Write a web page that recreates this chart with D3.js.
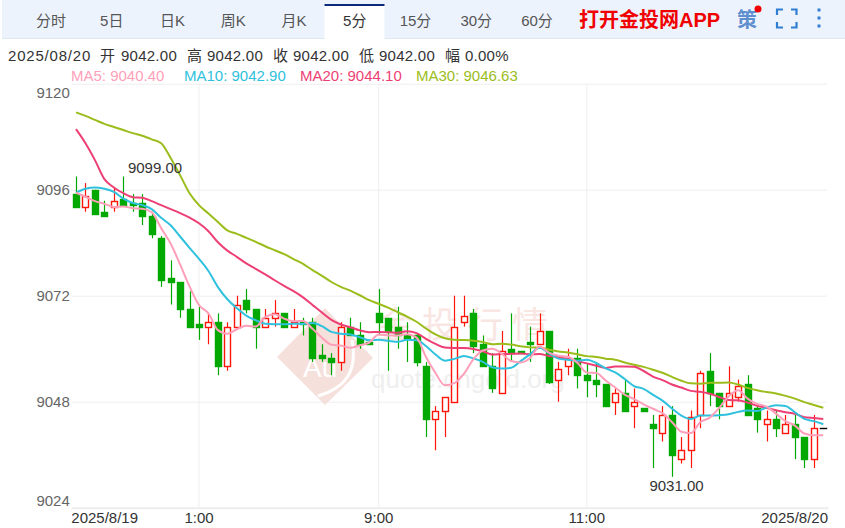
<!DOCTYPE html>
<html>
<head>
<meta charset="utf-8">
<script src="https://cdn.jsdelivr.net/npm/d3@7/dist/d3.min.js"></script>
<style>
  html, body { margin: 0; padding: 0; background: #fff; overflow: hidden; }
  svg { display: block; font-family: "Liberation Sans", Arial, "Noto Sans CJK SC", sans-serif; }
</style>
</head>
<body>
<svg id="chart" width="845" height="528"></svg>
<script>
// toolbar and header text
var tabs = ['分时', '5日', '日K', '周K', '月K', '5分', '15分', '30分', '60分'];
var activeTab = '5分';
var headerDate = '2025/08/20';
var headerLabels = ['开', '高', '收', '低', '幅'];
var headerValues = ['9042.00', '9042.00', '9042.00', '9042.00', '0.00%'];
var legendNames = ['MA5', 'MA10', 'MA20', 'MA30'];
var legendValues = ['9040.40', '9042.90', '9044.10', '9046.63'];

// axis
var yTicks = [9120, 9096, 9072, 9048, 9024];
var xTickIndex = [0, 13, 32, 54, 79];
var xTickLabels = ['2025/8/19', '1:00', '9:00', '11:00', '2025/8/20'];

// 5 minute candles
var opens = [
  9095,9092,9096,9091,9092,9094,9093,9093,9090,9085,
  9076,9075,9069,9065.5,9065,9066,9056,9065,9071,9069,
  9065,9067,9068,9065,9066,9066,9058.5,9058,9057,9065,
  9063,9061.5,9068,9067,9065,9063,9063,9056,9044,9046,
  9048,9066,9068,9061,9056,9050,9060,9059.5,9061.5,9061,
  9064,9053,9056,9058,9054,9053,9052,9048,9050,9047,
  9046.5,9043,9041,9045,9035,9037,9045,9055,9050,9047,
  9049,9052,9046.5,9043,9044,9041,9043,9040,9035,9042
];
var highs = [
  9099,9097.5,9096,9093.5,9096.5,9099,9095,9095,9091,9085.5,
  9080,9075,9073,9069.5,9068,9068,9066,9072,9073.5,9069,
  9069,9071,9068,9069,9067,9067,9061,9059,9066,9067,
  9066,9061.5,9073.5,9067,9069.5,9066,9063.5,9057,9047,9049,
  9072,9072,9069,9063,9059,9064,9068,9059.5,9065,9068,
  9064,9057,9060,9060,9056.5,9057,9052,9051,9053,9051,
  9046.5,9045,9047,9047,9040,9046,9055,9059,9050,9056,
  9053,9054,9047,9046,9046,9045,9045,9040,9045,9042
];
var lows = [
  9092,9091,9090.5,9090,9091,9092.5,9091,9088,9085,9074,
  9070,9067,9065,9062,9061,9054,9055,9065,9068,9060,
  9065,9065,9065,9065,9063,9057,9057,9054,9055,9063,
  9060,9061,9063,9055,9060,9057,9056,9040,9037,9040,
  9048,9065,9059,9056,9050,9050,9057,9059,9057,9061,
  9052,9048,9054,9051,9049,9049,9047,9045,9046,9042,
  9046,9033,9039,9031,9034,9033,9042,9047,9044,9047,
  9048,9045,9041,9039,9040,9041,9035,9033,9033,9042
];
var closes = [
  9092,9094.5,9090.5,9090,9093.5,9092.5,9092.5,9090,9086,9075.5,
  9075,9069,9065,9065,9066,9056,9065,9070,9069,9065,
  9067,9068,9065,9066,9065.5,9058,9058,9057,9065,9063,
  9061,9061,9066,9064,9063,9062.5,9057,9044,9046,9049,
  9065,9067.5,9060.5,9056,9051,9059.5,9059,9059,9061,9064,
  9052.5,9055.5,9058,9054,9053,9052,9047,9050,9046,9048,
  9046,9042,9045,9036,9037,9044.5,9054.5,9050,9047,9050,
  9051.5,9045,9044,9044,9042,9043,9040,9035,9042,9042
];

// moving averages
var ma5 = [
  9095.3,9094.4,9093.4,9092.8,9092.1,9092.2,9091.8,9091.7,9090.9,9087.3,
  9083.8,9079.1,9074.1,9069.9,9068,9064.2,9063.4,9064.4,9065.2,9065,
  9067.2,9067.8,9066.8,9066.2,9066.3,9064.5,9062.5,9060.9,9060.7,9060.2,
  9060.8,9061.4,9063.2,9063,9063,9063.3,9062.5,9058.1,9054.5,9051.7,
  9052.2,9054.3,9057.6,9059.6,9060,9058.9,9057.2,9056.9,9057.9,9060.5,
  9059.1,9058.4,9058.2,9056.8,9054.6,9054.5,9052.8,9051.2,9049.6,9048.6,
  9047.4,9046.4,9045.4,9043.4,9041.2,9040.9,9043.4,9044.4,9046.6,9049.2,
  9050.6,9048.7,9047.5,9046.9,9045.3,9043.6,9042.6,9040.8,9040.4,9040.4
];
var ma10 = [
  9095.3,9096.2,9096.5,9096.2,9095.5,9094,9093,9092.5,9091.6,9089.65,
  9087.95,9085.4,9082.85,9080.35,9077.6,9073.95,9071.2,9069.2,9067.5,9066.45,
  9065.65,9065.55,9065.55,9065.65,9065.6,9065.8,9065.1,9063.8,9063.4,9063.2,
  9062.6,9061.9,9062,9061.8,9061.55,9062,9061.9,9060.6,9058.7,9057.3,
  9057.7,9058.35,9057.8,9057,9055.8,9055.5,9055.7,9057.2,9058.7,9060.2,
  9058.95,9057.75,9057.5,9057.3,9057.5,9056.75,9055.55,9054.65,9053.15,9051.55,
  9050.9,9049.55,9048.25,9046.45,9044.85,9044.1,9044.85,9044.85,9044.95,9045.15,
  9045.7,9046,9045.9,9046.7,9047.2,9047.05,9045.6,9044.1,9043.6,9042.9
];
var ma20 = [
  9109.7,9106.5,9102.7,9098.4,9096.5,9095.2,9094.3,9094.2,9093.4,9092.5,
  9091.6,9090.7,9089.7,9088.4,9086.6,9084.1,9082.2,9080.8,9079.3,9078.08,
  9076.83,9075.5,9074.23,9073.03,9071.63,9069.9,9068.18,9066.53,9065.48,9064.85,
  9064.15,9063.75,9063.8,9063.75,9063.6,9063.93,9063.53,9062.23,9061.08,9060.28,
  9060.18,9060.15,9059.93,9059.43,9058.7,9058.78,9058.83,9058.93,9058.73,9058.78,
  9058.35,9058.08,9057.68,9057.18,9056.68,9056.15,9055.65,9055.95,9055.95,9055.9,
  9054.95,9053.68,9052.9,9051.9,9051.2,9050.45,9050.23,9049.78,9049.08,9048.38,
  9048.33,9047.8,9047.1,9046.6,9046.05,9045.6,9045.25,9044.5,9044.3,9044.1
];
var ma30 = [
  9113.5,9112.7,9111.8,9110.9,9110.2,9109.5,9108.8,9108.2,9107.4,9106.5,
  9103.2,9099.3,9095.2,9092.5,9090.6,9088.7,9086.8,9086,9085.1,9084.2,
  9083.2,9082.3,9081.4,9080.3,9079.2,9077.8,9076.5,9075.1,9074,9073.13,
  9072.1,9070.98,9070.17,9069.3,9068.28,9067.28,9066.1,9064.57,9063.23,9062.35,
  9062.02,9061.97,9061.82,9061.52,9061.02,9061.13,9060.93,9060.57,9060.3,9060.27,
  9059.78,9059.37,9059.13,9058.73,9058.32,9058.12,9057.75,9057.52,9056.88,9056.38,
  9055.88,9055.25,9054.55,9053.62,9052.75,9052.15,9052.07,9052.27,9052.3,9052.33,
  9051.88,9051.13,9050.58,9050.18,9049.88,9049.33,9048.7,9047.9,9047.27,9046.63
];

var colors = { ma5: '#ff9fb9', ma10: '#2fc1dd', ma20: '#ee3f75', ma30: '#9bbd1c', up: '#ff1408', down: '#00a800', text: '#333' };

var svg = d3.select('#chart');
var grid = { left: 71.3, right: 828, top: 83.7, bottom: 507.7 };

var x = d3.scaleBand().domain(d3.range(closes.length)).range([grid.left, grid.right])
  .paddingInner(0.36).paddingOuter(0.18);
var y = d3.scaleLinear().domain([9024, 9120]).range([grid.bottom, grid.top]);
function cx(i) { return x(i) + x.bandwidth() / 2; }
function crisp(v) { return Math.round(v) + 0.5; }

_drawToolbar();
_drawHeader();
_drawGrid();
_drawWatermark();
_drawCandles();
_drawLines();
_drawLabels();

function _drawToolbar() {
  svg.append('rect').attr('x', 2).attr('y', 0).attr('width', 843).attr('height', 38).attr('fill', '#edf3fd');
  svg.append('rect').attr('x', 2).attr('y', 38).attr('width', 843).attr('height', 1).attr('fill', '#dfe7f3');
  svg.append('rect').attr('x', 324.5).attr('y', 4).attr('width', 60).attr('height', 35).attr('fill', '#fff');
  svg.append('rect').attr('x', 324.5).attr('y', 4).attr('width', 60).attr('height', 2).attr('fill', '#0c2a7c');

  var tabX = d3.scalePoint().domain(tabs).range([51, 537]);
  svg.selectAll('.tab').data(tabs).enter().append('text')
    .attr('class', 'tab')
    .attr('x', function (d) { return tabX(d); })
    .attr('y', 26)
    .attr('text-anchor', 'middle')
    .attr('font-size', 15)
    .attr('fill', function (d) { return d == activeTab ? '#333' : '#555'; })
    .text(function (d) { return d; });

  svg.append('text').attr('x', 579).attr('y', 27)
    .attr('font-size', 20).attr('font-weight', 'bold').attr('fill', '#f00000')
    .text('打开金投网APP');

  svg.append('text').attr('x', 737).attr('y', 27)
    .attr('font-size', 20).attr('font-weight', 'bold').attr('fill', '#5f8fcf').text('策');
  svg.append('circle').attr('cx', 758).attr('cy', 9).attr('r', 3.5).attr('fill', '#f00000');

  // fullscreen corners
  svg.append('path')
    .attr('d', 'M777 15V9.5H783 M791 9.5H796.5V15 M796.5 22V27.5H791 M783 27.5H777V22')
    .attr('fill', 'none').attr('stroke', '#2e7fd2').attr('stroke-width', 2.2);
  svg.selectAll('.dot').data([10, 18, 26]).enter().append('rect')
    .attr('class', 'dot').attr('x', 817.5).attr('y', function (d) { return d - 1.5; })
    .attr('width', 3).attr('height', 3).attr('fill', '#2e7fd2');
}

function _drawHeader() {
  var labelX = [100, 187, 273, 359, 445];
  var valueX = [121, 207, 293, 379, 465];
  svg.append('text').attr('x', 8).attr('y', 61).attr('font-size', 15).attr('letter-spacing', 0.8)
    .attr('fill', colors.text).text(headerDate);
  headerLabels.forEach(function (d, i) {
    svg.append('text').attr('x', labelX[i]).attr('y', 61).attr('font-size', 15).attr('fill', colors.text).text(d);
    svg.append('text').attr('x', valueX[i]).attr('y', 61).attr('font-size', 15).attr('letter-spacing', 0.25)
      .attr('fill', colors.text).text(headerValues[i]);
  });

  var legendX = [71, 184, 300, 416];
  var legendColors = [colors.ma5, colors.ma10, colors.ma20, colors.ma30];
  legendNames.forEach(function (d, i) {
    svg.append('text').attr('x', legendX[i]).attr('y', 81).attr('font-size', 15)
      .attr('fill', legendColors[i]).text(d + ': ' + legendValues[i]);
  });
}

function _drawGrid() {
  var yAxis = d3.axisLeft(y).tickValues(yTicks).tickFormat(d3.format('d'))
    .tickSize(-(827 - grid.left)).tickPadding(1.5);
  var gy = svg.append('g').attr('transform', 'translate(' + grid.left + ',0)').call(yAxis);
  gy.select('.domain').remove();
  gy.selectAll('line').attr('stroke', '#eee');
  gy.selectAll('text').attr('font-size', 15).attr('font-family', 'inherit').attr('fill', '#666')
    .attr('dy', function (d) { return d == 9120 ? '0.92em' : d == 9024 ? '-0.15em' : '0.32em'; });

  var xAxis = d3.axisBottom(x).tickValues(xTickIndex)
    .tickFormat(function (d) { return xTickLabels[xTickIndex.indexOf(d)]; })
    .tickSizeInner(-(grid.bottom - grid.top)).tickSizeOuter(0).tickPadding(4);
  var gx = svg.append('g').attr('transform', 'translate(0,' + grid.bottom + ')').call(xAxis);
  gx.select('.domain').attr('stroke', '#eee').attr('stroke-width', 2);
  gx.selectAll('line').attr('stroke', function (d) { return d == 0 || d == 79 ? 'none' : '#eee'; });
  gx.selectAll('text').attr('font-size', 15).attr('font-family', 'inherit').attr('fill', colors.text)
    .attr('y', 5)
    .attr('text-anchor', function (d) { return d == 0 ? 'start' : d == 79 ? 'end' : 'middle'; })
    .attr('dx', function (d) { return d == 0 ? grid.left - cx(0) : d == 79 ? 828 - cx(79) : 0; });
}

function _drawWatermark() {
  var wm = svg.append('g');
  wm.append('path').attr('d', 'M277 357L325 308L373 358L325 405Z').attr('fill', '#f6e0dc');
  wm.append('path').attr('d', 'M318 396C345 388 358 372 352 340').attr('fill', 'none').attr('stroke', '#fff').attr('stroke-width', 3);
  wm.append('text').attr('x', 303).attr('y', 377).attr('font-size', 28).attr('fill', '#fff').text('Au');
  wm.append('text').attr('x', 377).attr('y', 338).attr('font-size', 36).attr('letter-spacing', 9)
    .attr('fill', '#f9e6e3').text('金投行情');
  wm.append('text').attr('x', 371).attr('y', 388).attr('font-size', 26).attr('fill', '#efefef').text('quote.cngold.org');
}

function _drawCandles() {
  function colorOf(i) {
    return closes[i] > opens[i] ? colors.up : closes[i] < opens[i] ? colors.down : '#000';
  }
  var bodyWidth = Math.round(x.bandwidth());
  var candle = svg.append('g').selectAll('g').data(d3.range(closes.length)).enter().append('g');

  candle.append('line')
    .attr('x1', function (i) { return crisp(cx(i)); })
    .attr('x2', function (i) { return crisp(cx(i)); })
    .attr('y1', function (i) { return y(highs[i]); })
    .attr('y2', function (i) { return y(lows[i]); })
    .attr('stroke', colorOf)
    .attr('stroke-width', 1.2);

  // a flat candle still needs a sliver of height or the browser skips it
  candle.append('rect')
    .attr('x', function (i) { return crisp(cx(i)) - bodyWidth / 2; })
    .attr('y', function (i) { return crisp(y(Math.max(opens[i], closes[i]))); })
    .attr('width', bodyWidth)
    .attr('height', function (i) { return Math.max(0.01, crisp(y(Math.min(opens[i], closes[i]))) - crisp(y(Math.max(opens[i], closes[i])))); })
    .attr('fill', function (i) { return closes[i] > opens[i] ? '#fff' : colorOf(i); })
    .attr('stroke', colorOf)
    .attr('stroke-width', 1.4);
}

function _drawLines() {
  var line = d3.line()
    .x(function (d, i) { return cx(i); })
    .y(function (d) { return y(d); })
    .curve(d3.curveMonotoneX);

  [[ma30, colors.ma30], [ma20, colors.ma20], [ma10, colors.ma10], [ma5, colors.ma5]].forEach(function (s) {
    svg.append('path').datum(s[0]).attr('d', line)
      .attr('fill', 'none').attr('stroke', s[1]).attr('stroke-width', 2);
  });
}

function _drawLabels() {
  // highest and lowest marks
  svg.append('text').attr('x', 155).attr('y', 173).attr('text-anchor', 'middle')
    .attr('font-size', 15).attr('fill', colors.text).text(d3.max(highs).toFixed(2));
  svg.append('text').attr('x', 676.5).attr('y', 491).attr('text-anchor', 'middle')
    .attr('font-size', 15).attr('fill', colors.text).text(d3.min(lows).toFixed(2));

  // next panel's legend, cut off by the window
  var clipped = [['MACD', 25, '#888'], ['DIF: 1.00', 82, '#2fc1dd'], ['DEA: -1.01', 197, '#b030b0'], ['MACD: 0.11', 308, '#b01010']];
  clipped.forEach(function (d) {
    svg.append('text').attr('x', d[1]).attr('y', 538).attr('font-size', 15).attr('fill', d[2]).text(d[0]);
  });
}
</script>
</body>
</html>
